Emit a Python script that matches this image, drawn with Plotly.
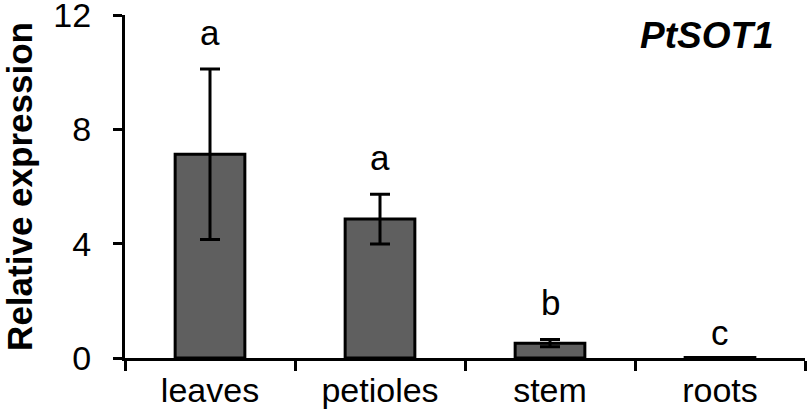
import plotly.graph_objects as go

categories = ["leaves", "petioles", "stem", "roots"]
values = [7.13, 4.86, 0.52, 0.02]
errors = [2.98, 0.87, 0.13, 0.0]
letters = ["a", "a", "b", "c"]
letter_y = [11.4, 7.02, 1.95, 0.9]
y_ticks = [0, 4, 8, 12]

FONT = "Liberation Sans, Arial, sans-serif"

fig = go.Figure()
fig.add_trace(go.Bar(
    x=categories, y=values,
    marker=dict(color="#5f5f5f", line=dict(color="black", width=3)),
    width=0.41,
    error_y=dict(type="data", array=errors, visible=True, color="black",
                 thickness=3, width=10),
))

for c, l, ly in zip(categories, letters, letter_y):
    fig.add_annotation(x=c, y=ly, text=l, showarrow=False, xref="x", yref="y",
                       font=dict(family=FONT, size=35, color="black"))

fig.add_annotation(x=(707 - 125) / (810 - 125 - 5), y=1 - (36 - 15) / (409 - 15 - 51),
                   xref="paper", yref="paper", text="<b><i>PtSOT1</i></b>",
                   showarrow=False, xanchor="center", yanchor="middle",
                   font=dict(family=FONT, size=37, color="black"))

fig.update_layout(
    width=810, height=409,
    margin=dict(l=125, r=5, t=15, b=51),
    plot_bgcolor="white", paper_bgcolor="white",
    showlegend=False,
    font=dict(family=FONT, size=35, color="black"),
    xaxis=dict(type="category", range=[-0.5, 3.5], showline=True, linecolor="black",
               linewidth=3, ticks="outside", tickson="boundaries", ticklen=10,
               tickwidth=3, tickcolor="black", showgrid=False, zeroline=False,
               automargin=False, ticklabeloverflow="allow",
               tickfont=dict(family=FONT, size=34, color="black")),
    yaxis=dict(range=[0, 12], tickvals=y_ticks, showline=True, linecolor="black",
               linewidth=3, ticks="outside", ticklen=9, tickwidth=3, tickcolor="black",
               showgrid=False, zeroline=False, automargin=False,
               ticklabeloverflow="allow", ticklabelstandoff=15,
               tickfont=dict(family=FONT, size=34, color="black"),
               title=dict(text="<b>Relative expression</b>", standoff=14,
                          font=dict(family=FONT, size=35, color="black"))),
)

fig.write_html("out.html", config={"displayModeBar": False},
               post_script="document.body.style.margin='0';")
